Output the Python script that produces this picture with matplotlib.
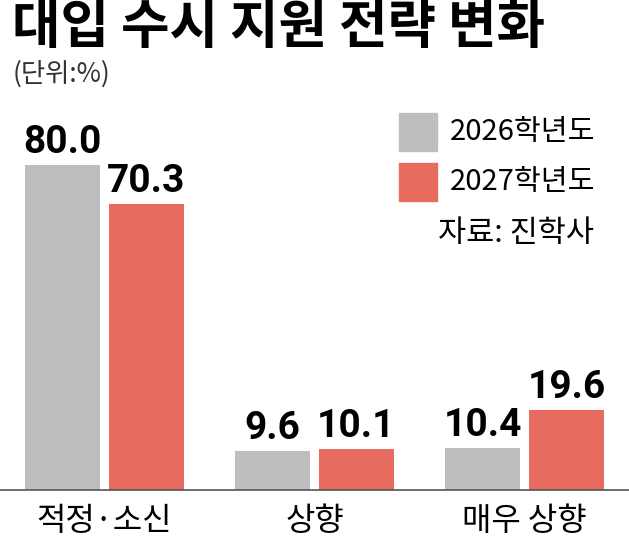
import matplotlib
matplotlib.use("Agg")
import matplotlib.pyplot as plt
from matplotlib.patches import Rectangle
import numpy as np

plt.rcParams['font.family'] = ['Noto Sans CJK KR', 'DejaVu Sans']

# data
categories = ['적정·소신', '상향', '매우 상향']
series_names = ['2026학년도', '2027학년도']
vals_2026 = [80.0, 9.6, 10.4]
vals_2027 = [70.3, 10.1, 19.6]

gray = '#bdbebf'
red = '#e86b5f'
W, H = 629, 541

fig = plt.figure(figsize=(W / 100, H / 100), dpi=100)
ax = fig.add_axes([0, 51 / H, 1, 390 / H])

x = np.arange(len(categories))
bw = 75 / 210
off = 42 / 210
b1 = ax.bar(x - off, vals_2026, bw, color=gray)
b2 = ax.bar(x + off, vals_2027, bw, color=red)

num_font = dict(family=['Roboto', 'DejaVu Sans'], weight='bold', size=28)
for bars in (b1, b2):
    ax.bar_label(bars, fmt='%.1f', padding=3, **num_font)

ax.set_xlim(-104.5 / 210, (W - 104.5) / 210)
ax.set_ylim(0, 390 / 4.0625)
ax.set_xticks(x)
ax.set_xticklabels(categories, fontsize=23)
ax.tick_params(axis='x', length=0, pad=11)
ax.set_yticks([])
for s in ('top', 'left', 'right'):
    ax.spines[s].set_visible(False)
ax.spines['bottom'].set_color('#555555')
ax.spines['bottom'].set_linewidth(1.2)

# title
fig.text(12 / W, 1 - 27 / H, '대입 수시 지원 전략 변화', fontsize=38, weight='bold',
         va='center', ha='left')
fig.text(13 / W, 1 - 74 / H, '(단위:%)', fontsize=19, va='center', ha='left',
         color='#333333', weight='light')

# legend
for i, (name, c) in enumerate(zip(series_names, [gray, red])):
    yc = 132 + i * 50
    fig.add_artist(Rectangle((399 / W, 1 - (yc + 19) / H), 38 / W, 38 / H,
                             transform=fig.transFigure, color=c))
    fig.text(450 / W, 1 - yc / H, name, fontsize=21, va='center', ha='left')
fig.text(594 / W, 1 - 233 / H, '자료: 진학사', fontsize=22, va='center', ha='right')

fig.savefig('out.png', dpi=100)
